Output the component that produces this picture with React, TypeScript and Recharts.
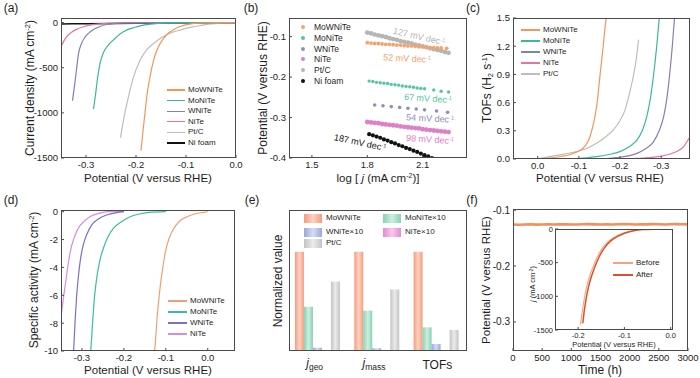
import React from "react"
import { LineChart, Line, XAxis, YAxis, ScatterChart, Scatter, BarChart, Bar } from "recharts"

const FONT = "'Liberation Sans', Arial, Helvetica, sans-serif"
const INK = "#1e1e1e"
const FRAME = "#4a4a4a"

// (a) LSV curves: [potential (V vs RHE), current density (mA cm-2)]
const aMoWNiTe = [[-0.19, -1420], [-0.186, -1200], [-0.182, -1000], [-0.178, -800], [-0.172, -600], [-0.165, -420], [-0.157, -290], [-0.147, -190], [-0.135, -115], [-0.12, -62], [-0.105, -30], [-0.09, -13], [-0.075, -5], [-0.05, -1], [0, 0]]
const aMoNiTe = [[-0.285, -958], [-0.281, -800], [-0.277, -620], [-0.272, -454], [-0.265, -330], [-0.255, -245], [-0.245, -190], [-0.232, -125], [-0.218, -80], [-0.206, -58], [-0.19, -32], [-0.17, -15], [-0.14, -4], [-0.1, -1], [0, 0]]
const aWNiTe = [[-0.327, -865], [-0.323, -700], [-0.319, -520], [-0.315, -343], [-0.309, -230], [-0.302, -160], [-0.295, -119], [-0.285, -75], [-0.272, -42], [-0.259, -20], [-0.24, -8], [-0.226, -2], [-0.2, -1], [0, 0]]
const aNiTe = [[-0.35, -268], [-0.345, -210], [-0.339, -157], [-0.33, -110], [-0.319, -74], [-0.305, -45], [-0.29, -25], [-0.27, -12], [-0.25, -5], [-0.22, -1], [0, 0]]
const aPtC = [[-0.231, -1275], [-0.224, -1050], [-0.215, -820], [-0.205, -604], [-0.193, -430], [-0.18, -310], [-0.165, -230], [-0.15, -170], [-0.13, -112], [-0.112, -82], [-0.09, -50], [-0.07, -30], [-0.05, -14], [-0.03, -5], [0, 0]]
const aNiFoam = [[-0.35, -14], [-0.3, -11], [-0.2, -7], [-0.1, -4], [0, -1]]
const aXTicks = [-0.3, -0.2, -0.1, 0]
const aYTicks = [0, -500, -1000, -1500]

// (b) Tafel plots: [log j, potential]
const bMoWNiTe = [[1.8, -0.115], [1.82, -0.116], [1.84, -0.117], [1.86, -0.117], [1.88, -0.118], [1.9, -0.119], [1.92, -0.119], [1.94, -0.12], [1.96, -0.121], [1.98, -0.121], [2.0, -0.122], [2.02, -0.123], [2.04, -0.123], [2.06, -0.124], [2.08, -0.125], [2.1, -0.125], [2.12, -0.126], [2.14, -0.127], [2.16, -0.127], [2.18, -0.128], [2.2, -0.128], [2.23, -0.129]]
const bMoNiTe = [[1.81, -0.21], [1.83, -0.211], [1.85, -0.213], [1.87, -0.214], [1.89, -0.215], [1.91, -0.216], [1.93, -0.218], [1.95, -0.219], [1.97, -0.22], [1.99, -0.222], [2.01, -0.223], [2.03, -0.224], [2.05, -0.225], [2.07, -0.227], [2.09, -0.228], [2.11, -0.229], [2.16, -0.232], [2.2, -0.235], [2.24, -0.237]]
const bWNiTe = [[1.84, -0.269], [1.885, -0.271], [1.93, -0.273], [1.975, -0.275], [2.02, -0.277], [2.065, -0.279], [2.11, -0.281], [2.175, -0.284], [2.235, -0.287]]
const bNiTe = [[1.8, -0.311], [1.82, -0.312], [1.84, -0.313], [1.86, -0.314], [1.88, -0.316], [1.9, -0.317], [1.92, -0.318], [1.94, -0.319], [1.96, -0.32], [1.98, -0.322], [2.0, -0.323], [2.02, -0.324], [2.04, -0.325], [2.06, -0.326], [2.08, -0.327], [2.1, -0.329], [2.12, -0.33], [2.14, -0.331], [2.16, -0.332], [2.18, -0.333], [2.2, -0.334], [2.22, -0.335], [2.24, -0.336]]
const bPtC = [[1.8, -0.09], [1.82, -0.092], [1.84, -0.095], [1.86, -0.097], [1.88, -0.099], [1.9, -0.101], [1.92, -0.104], [1.94, -0.106], [1.96, -0.108], [1.98, -0.111], [2.0, -0.113], [2.02, -0.115], [2.04, -0.117], [2.06, -0.12], [2.08, -0.122], [2.1, -0.124], [2.12, -0.126], [2.14, -0.129], [2.16, -0.131], [2.18, -0.133], [2.2, -0.135], [2.22, -0.138], [2.24, -0.14]]
const bNiFoam = [[1.81, -0.341], [1.83, -0.344], [1.85, -0.347], [1.87, -0.35], [1.89, -0.354], [1.91, -0.357], [1.93, -0.361], [1.95, -0.364], [1.97, -0.368], [1.99, -0.371], [2.01, -0.375], [2.03, -0.378], [2.05, -0.382], [2.07, -0.385], [2.09, -0.389], [2.11, -0.393], [2.13, -0.396], [2.15, -0.4]]
const bXTicks = [1.5, 1.8, 2.1]
const bYTicks = [-0.1, -0.2, -0.3, -0.4]
const bSlopes = ["127", "52", "67", "54", "98", "187"]

// (c) TOFs: [potential, TOF (H2 s-1)]
const cMoWNiTe = [[-0.168, 1.55], [-0.165, 1.45], [-0.158, 1.15], [-0.151, 0.875], [-0.145, 0.62], [-0.139, 0.45], [-0.133, 0.33], [-0.127, 0.237], [-0.12, 0.17], [-0.11, 0.114], [-0.095, 0.075], [-0.078, 0.045], [-0.06, 0.03], [-0.04, 0.016], [-0.02, 0.008], [0, 0.003]]
const cMoNiTe = [[-0.298, 1.6], [-0.295, 1.48], [-0.288, 1.15], [-0.281, 0.875], [-0.274, 0.65], [-0.265, 0.45], [-0.254, 0.3], [-0.241, 0.2], [-0.222, 0.13], [-0.2, 0.078], [-0.17, 0.045], [-0.143, 0.025], [-0.12, 0.013], [-0.094, 0.005], [-0.07, 0]]
const cWNiTe = [[-0.334, 1.6], [-0.332, 1.48], [-0.327, 1.2], [-0.32, 0.875], [-0.314, 0.65], [-0.306, 0.45], [-0.295, 0.3], [-0.281, 0.18], [-0.262, 0.11], [-0.241, 0.06], [-0.22, 0.033], [-0.192, 0.014], [-0.15, 0]]
const cNiTe = [[-0.375, 0.27], [-0.365, 0.2], [-0.354, 0.13], [-0.34, 0.085], [-0.322, 0.053], [-0.3, 0.03], [-0.273, 0.014], [-0.24, 0.006], [-0.2, 0]]
const cPtC = [[-0.245, 1.27], [-0.24, 1.08], [-0.232, 0.875], [-0.222, 0.68], [-0.212, 0.52], [-0.2, 0.41], [-0.184, 0.31], [-0.165, 0.235], [-0.143, 0.167], [-0.12, 0.115], [-0.094, 0.078], [-0.06, 0.05], [-0.029, 0.025], [0, 0.002]]
const cXTicks = [0, -0.1, -0.2, -0.3]
const cYTicks = [0, 0.3, 0.6, 0.9, 1.2, 1.5]

// (d) specific activity: [potential, mA cm-2]
const dMoWNiTe = [[-0.128, -10.5], [-0.124, -9], [-0.121, -7.67], [-0.117, -6.4], [-0.113, -5.27], [-0.107, -4], [-0.101, -2.88], [-0.092, -1.9], [-0.081, -1.2], [-0.066, -0.65], [-0.049, -0.36], [-0.03, -0.15], [-0.01, -0.05], [0, 0]]
const dMoNiTe = [[-0.28, -10.5], [-0.279, -10], [-0.274, -7.67], [-0.27, -6.1], [-0.265, -4.8], [-0.258, -3.6], [-0.249, -2.63], [-0.238, -1.8], [-0.225, -1.2], [-0.205, -0.7], [-0.185, -0.36], [-0.16, -0.15], [-0.14, -0.05], [-0.1, 0]]
const dWNiTe = [[-0.321, -10.5], [-0.32, -10], [-0.316, -7.67], [-0.313, -6.2], [-0.309, -4.8], [-0.304, -3.5], [-0.297, -2.4], [-0.288, -1.6], [-0.277, -0.96], [-0.26, -0.5], [-0.241, -0.24], [-0.22, -0.08], [-0.2, 0]]
const dNiTe = [[-0.352, -8.5], [-0.35, -7.67], [-0.345, -6.4], [-0.34, -5.27], [-0.334, -4], [-0.328, -2.88], [-0.319, -1.9], [-0.309, -1.2], [-0.295, -0.7], [-0.281, -0.36], [-0.26, -0.12], [-0.236, 0], [-0.2, 0]]
const dXTicks = [-0.3, -0.2, -0.1, 0]
const dYTicks = [0, -2, -4, -6, -8, -10]

// (e) normalized values
const eCats = ["j_geo", "j_mass", "TOFs"]
const eMoWNiTe = [1, 1, 1]
const eMoNiTe10 = [0.446, 0.406, 0.238]
const eWNiTe10 = [0.033, 0.027, 0.07]
const eNiTe10 = [0.008, 0.008, 0.008]
const ePtC = [0.699, 0.62, 0.212]

// (f) stability
const fTime = [0, 100, 200, 300, 400, 500, 600, 700, 800, 900, 1000, 1100, 1200, 1300, 1400, 1500, 1600, 1700, 1800, 1900, 2000, 2100, 2200, 2300, 2400, 2500, 2600, 2700, 2800, 2900, 3000]
const fPotential = [-0.1258, -0.1262, -0.1257, -0.1254, -0.1259, -0.1256, -0.1253, -0.1257, -0.1255, -0.1252, -0.1256, -0.1258, -0.1254, -0.1251, -0.1255, -0.1257, -0.1253, -0.1256, -0.1254, -0.125, -0.1253, -0.1256, -0.1252, -0.1255, -0.1251, -0.1254, -0.1256, -0.1252, -0.1249, -0.1253, -0.1255]
const fXTicks = [0, 500, 1000, 1500, 2000, 2500, 3000]
const fYTicks = [-0.1, -0.2, -0.3]
const fBefore = [[-0.195, -1420], [-0.19, -1180], [-0.186, -1010], [-0.182, -870], [-0.176, -720], [-0.169, -584], [-0.159, -420], [-0.148, -287], [-0.134, -180], [-0.12, -114], [-0.103, -62], [-0.083, -25], [-0.062, -8], [-0.04, -2], [0, 0]]
const fAfter = [[-0.19, -1400], [-0.186, -1180], [-0.182, -1010], [-0.178, -870], [-0.172, -720], [-0.165, -584], [-0.155, -420], [-0.144, -287], [-0.13, -180], [-0.116, -114], [-0.1, -62], [-0.08, -25], [-0.06, -8], [-0.04, -2], [0, 0]]
const fiXTicks = [-0.2, -0.1, 0]
const fiYTicks = [0, -500, -1000, -1500]

const C = {
  mow: "#F29659",
  mo: "#3DB79A",
  w: "#8083B2",
  ni: "#E274A8",
  pt: "#BDBDBD",
  foam: "#111111",
}
const BC = {
  mow: "#F4A26E",
  mo: "#55C6A3",
  w: "#8D90BF",
  ni: "#E07EC8",
  pt: "#B5B5B5",
  foam: "#111111",
}
const DC = { mow: "#F0A070", mo: "#3CBCA0", w: "#7B6FC6", ni: "#D58EE0" }
const EC = [
  ["mow", "#F59C7E", "#FDD3C3"],
  ["mo", "#86D2B4", "#CDEFE0"],
  ["w", "#9AA8D8", "#D6DDF3"],
  ["ni", "#E48CD0", "#F6CBEC"],
  ["pt", "#C4C4C4", "#EBEBEB"],
]

type Rect = [number, number, number, number]
const A: Rect = [61, 18, 236, 158]
const B: Rect = [289, 18, 467, 158]
const Cr: Rect = [513, 18, 690, 159]
const D: Rect = [61, 210, 235, 351]
const E: Rect = [289, 210, 467, 351]
const F: Rect = [513, 209, 688, 351]
const FI: Rect = [555, 229, 673, 330]

const ML = 55
const MT = 8
const MR = 14
const XH = 30
const MARGIN = { top: MT, right: MR, bottom: 0, left: 0 }

const pts = (arr: number[][]) => arr.map(([x, y]) => ({ x, y }))
const fMain = fTime.map((t, i) => ({ x: t, y: fPotential[i] }))
const eTable = eCats.map((cat, i) => ({ cat, mow: eMoWNiTe[i], mo: eMoNiTe10[i], w: eWNiTe10[i], ni: eNiTe10[i], pt: ePtC[i] }))

function place(r: Rect) {
  return { left: r[0] - ML, top: r[1] - MT, width: r[2] - r[0] + ML + MR, height: r[3] - r[1] + MT + XH }
}

const tickFont = (s = 9.5) => ({ fontSize: s, fill: INK, fontFamily: FONT })
const xAx = (s = 9.5, m = 6) => ({ height: XH, tickSize: -3, tickMargin: m, axisLine: false, tickLine: { stroke: FRAME }, tick: tickFont(s), allowDataOverflow: true, interval: 0 as const })
const yAx = (s = 9.5, m = 6) => ({ width: ML, tickSize: -3, tickMargin: m, axisLine: false, tickLine: { stroke: FRAME }, tick: tickFont(s), allowDataOverflow: true, interval: 0 as const })
const f1 = (v: number) => v.toFixed(1)

function Frame({ r }: { r: Rect }) {
  return <div style={{ position: "absolute", left: r[0], top: r[1], width: r[2] - r[0], height: r[3] - r[1], border: `1px solid ${FRAME}`, boxSizing: "border-box", pointerEvents: "none" }} />
}

type TxtProps = { x: number; y: number; size?: number; color?: string; rot?: number; left?: boolean; children: React.ReactNode }
function Txt({ x, y, size = 12, color = INK, rot = 0, left = false, children }: TxtProps) {
  return (
    <div style={{ position: "absolute", left: x, top: y, transform: `translate(${left ? "0" : "-50%"}, -50%) rotate(${rot}deg)`, fontSize: size, color, whiteSpace: "nowrap", lineHeight: 1, fontFamily: FONT }}>
      {children}
    </div>
  )
}

function LegLine({ x, y, w, c, t = 1.4 }: { x: number; y: number; w: number; c: string; t?: number }) {
  return <div style={{ position: "absolute", left: x, top: y - t / 2, width: w, height: t, background: c }} />
}

const Sup = ({ children }: { children: React.ReactNode }) => <sup style={{ fontSize: "0.62em", verticalAlign: "0.55em" }}>{children}</sup>
const Sub = ({ children }: { children: React.ReactNode }) => <sub style={{ fontSize: "0.62em", verticalAlign: "-0.25em" }}>{children}</sub>

function line(data: number[][], color: string, w = 1.2) {
  return <Line data={pts(data)} dataKey="y" type="monotone" stroke={color} strokeWidth={w} dot={false} isAnimationActive={false} />
}

function scat(data: number[][], color: string, r = 2) {
  return <Scatter data={pts(data)} isAnimationActive={false} shape={(p: any) => <circle cx={p.cx} cy={p.cy} r={r} fill={color} />} />
}

function ETick(props: any) {
  const { x, y, payload } = props
  const v: string = payload.value
  if (!v.includes("_")) {
    return <text x={x} y={y + 18} textAnchor="middle" fontSize={12} fill={INK} fontFamily={FONT}>{v}</text>
  }
  return (
    <text x={x - 4} y={y + 16} textAnchor="middle" fill={INK} fontFamily={FONT}>
      <tspan fontSize={12} fontStyle="italic">j</tspan>
      <tspan fontSize={8.5} dy={3}>{v.split("_")[1]}</tspan>
    </text>
  )
}

export default function App() {
  const pa = place(A), pb = place(B), pc = place(Cr), pd = place(D), pe = place(E), pf = place(F), pfi = place(FI)
  const abs = (p: { left: number; top: number }) => ({ position: "absolute" as const, left: p.left, top: p.top })
  const legA: [string, string][] = [["MoWNiTe", C.mow], ["MoNiTe", C.mo], ["WNiTe", C.w], ["NiTe", C.ni], ["Pt/C", C.pt], ["Ni foam", C.foam]]
  const legB: [string, string][] = [["MoWNiTe", BC.mow], ["MoNiTe", BC.mo], ["WNiTe", BC.w], ["NiTe", BC.ni], ["Pt/C", BC.pt], ["Ni foam", BC.foam]]
  const legD: [string, string][] = [["MoWNiTe", DC.mow], ["MoNiTe", DC.mo], ["WNiTe", DC.w], ["NiTe", DC.ni]]
  const slopeColors = [BC.pt, BC.mow, BC.mo, BC.w, BC.ni, BC.foam]
  const slopePos: [number, number, number][] = [[419, 37, 13], [407, 59, 3], [428, 99, 4], [430, 119, 3], [430, 140, 4], [360, 143, 12]]
  const eSwatch = (i: number) => `linear-gradient(to right, ${EC[i][1]}, ${EC[i][2]} 50%, ${EC[i][1]})`
  const legE: [string, number, number, number][] = [["MoWNiTe", 0, 304, 218], ["MoNiTe×10", 1, 383, 218], ["WNiTe×10", 2, 304, 232], ["NiTe×10", 3, 383, 232], ["Pt/C", 4, 304, 243]]

  return (
    <div style={{ position: "absolute", left: 0, top: 0, width: 700, height: 378, background: "#fff", overflow: "hidden", fontFamily: FONT }}>
      {/* (a) */}
      <div style={abs(pa)}>
        <LineChart width={pa.width} height={pa.height} margin={MARGIN}>
          <XAxis {...xAx()} type="number" dataKey="x" domain={[-0.35, 0]} ticks={aXTicks} tickFormatter={f1} />
          <YAxis {...yAx()} type="number" dataKey="y" domain={[-1500, 52]} ticks={aYTicks} />
          {line(aNiFoam, C.foam, 1.6)}
          {line(aPtC, C.pt)}
          {line(aNiTe, C.ni)}
          {line(aWNiTe, C.w)}
          {line(aMoNiTe, C.mo)}
          {line(aMoWNiTe, C.mow)}
        </LineChart>
      </div>
      <Frame r={A} />

      {/* (b) */}
      <div style={abs(pb)}>
        <ScatterChart width={pb.width} height={pb.height} margin={MARGIN}>
          <XAxis {...xAx()} type="number" dataKey="x" domain={[1.376, 2.34]} ticks={bXTicks} tickFormatter={f1} />
          <YAxis {...yAx()} type="number" dataKey="y" domain={[-0.4, -0.054]} ticks={bYTicks} tickFormatter={f1} />
          {scat(bPtC, BC.pt, 2.4)}
          {scat(bMoWNiTe, BC.mow, 1.9)}
          {scat(bMoNiTe, BC.mo, 1.7)}
          {scat(bWNiTe, BC.w, 1.8)}
          {scat(bNiTe, BC.ni, 2.4)}
          {scat(bNiFoam, BC.foam, 2.1)}
        </ScatterChart>
      </div>
      <Frame r={B} />

      {/* (c) */}
      <div style={abs(pc)}>
        <LineChart width={pc.width} height={pc.height} margin={MARGIN}>
          <XAxis {...xAx()} type="number" dataKey="x" domain={[-0.37, 0.06]} reversed ticks={cXTicks} tickFormatter={f1} />
          <YAxis {...yAx()} type="number" dataKey="y" domain={[0, 1.5]} ticks={cYTicks} tickFormatter={f1} />
          {line(cPtC, C.pt)}
          {line(cNiTe, C.ni)}
          {line(cWNiTe, C.w)}
          {line(cMoNiTe, C.mo)}
          {line(cMoWNiTe, C.mow)}
        </LineChart>
      </div>
      <Frame r={Cr} />

      {/* (d) */}
      <div style={abs(pd)}>
        <LineChart width={pd.width} height={pd.height} margin={MARGIN}>
          <XAxis {...xAx()} type="number" dataKey="x" domain={[-0.35, 0.065]} ticks={dXTicks} tickFormatter={f1} />
          <YAxis {...yAx()} type="number" dataKey="y" domain={[-10, 0.12]} ticks={dYTicks} />
          {line(dNiTe, DC.ni)}
          {line(dWNiTe, DC.w)}
          {line(dMoNiTe, DC.mo)}
          {line(dMoWNiTe, DC.mow)}
        </LineChart>
      </div>
      <Frame r={D} />

      {/* (e) */}
      <div style={abs(pe)}>
        <BarChart width={pe.width} height={pe.height} margin={MARGIN} data={eTable} barCategoryGap="10%" barGap={0}>
          <defs>
            {EC.map(([k, edge, light]) => (
              <linearGradient key={k} id={`eg-${k}`} x1="0" y1="0" x2="1" y2="0">
                <stop offset="0%" stopColor={edge} />
                <stop offset="50%" stopColor={light} />
                <stop offset="100%" stopColor={edge} />
              </linearGradient>
            ))}
          </defs>
          <XAxis dataKey="cat" height={XH} tickLine={false} axisLine={false} tickSize={0} tickMargin={0} tick={ETick} interval={0} />
          <YAxis width={ML} type="number" domain={[0, 1.42]} tick={false} tickLine={false} axisLine={false} />
          {EC.map(([k]) => (
            <Bar key={k} dataKey={k} fill={`url(#eg-${k})`} isAnimationActive={false} />
          ))}
        </BarChart>
      </div>
      <Frame r={E} />

      {/* (f) */}
      <div style={abs(pf)}>
        <LineChart width={pf.width} height={pf.height} margin={MARGIN}>
          <XAxis {...xAx()} type="number" dataKey="x" domain={[0, 3000]} ticks={fXTicks} />
          <YAxis {...yAx(10)} type="number" dataKey="y" domain={[-0.352, -0.098]} ticks={fYTicks} tickFormatter={f1} />
          <Line data={fMain} dataKey="y" type="linear" stroke="#F0905C" strokeWidth={2.6} dot={false} isAnimationActive={false} />
        </LineChart>
      </div>
      <Frame r={F} />
      <div style={{ position: "absolute", left: FI[0], top: FI[1], width: FI[2] - FI[0], height: FI[3] - FI[1], background: "#fff" }} />
      <div style={abs(pfi)}>
        <LineChart width={pfi.width} height={pfi.height} margin={MARGIN}>
          <XAxis {...xAx(7.5, 6)} type="number" dataKey="x" domain={[-0.25, 0.005]} ticks={fiXTicks} tickFormatter={f1} />
          <YAxis {...yAx(7.5, 5)} type="number" dataKey="y" domain={[-1500, 0]} ticks={fiYTicks} />
          {line(fBefore, "#F4A47A", 1.1)}
          {line(fAfter, "#D8532B", 1.5)}
        </LineChart>
      </div>
      <Frame r={FI} />

      {/* panel letters */}
      <Txt x={11} y={8} size={12}>(a)</Txt>
      <Txt x={251} y={8} size={12}>(b)</Txt>
      <Txt x={473} y={8} size={12}>(c)</Txt>
      <Txt x={11} y={200} size={12}>(d)</Txt>
      <Txt x={252} y={200} size={12}>(e)</Txt>
      <Txt x={472} y={200} size={12}>(f)</Txt>

      {/* axis titles */}
      <Txt x={30} y={88} rot={-90}>Current density (mA cm<Sup>-2</Sup>)</Txt>
      <Txt x={148} y={179} size={11.5}>Potential (V versus RHE)</Txt>
      <Txt x={263} y={88} rot={-90}>Potential (V versus RHE)</Txt>
      <Txt x={378} y={179} size={11.5}>log [ <i>j</i> (mA cm<Sup>-2</Sup>)]</Txt>
      <Txt x={488} y={88} rot={-90}>TOFs (H<Sub>2</Sub> s<Sup>-1</Sup>)</Txt>
      <Txt x={600} y={179} size={11.5}>Potential (V versus RHE)</Txt>
      <Txt x={34} y={280} rot={-90}>Specific activity (mA cm<Sup>-2</Sup>)</Txt>
      <Txt x={148} y={371} size={11.5}>Potential (V versus RHE)</Txt>
      <Txt x={278} y={281} rot={-90}>Normalized value</Txt>
      <Txt x={487} y={280} rot={-90} size={11.5}>Potential (V versus RHE)</Txt>
      <Txt x={600} y={370} size={12}>Time (h)</Txt>
      <Txt x={614} y={345} size={7.5}>Potential (V versus RHE)</Txt>
      <Txt x={533} y={284} size={7.5} rot={-90}><i>j</i> (mA cm<Sup>-2</Sup>)</Txt>

      {/* legend (a) */}
      {legA.map(([n, c], i) => (
        <React.Fragment key={n}>
          <LegLine x={167} y={90 + i * 10.6} w={18} c={c} t={n === "Ni foam" ? 1.8 : 1.3} />
          <Txt x={188} y={90 + i * 10.6} size={8} left>{n}</Txt>
        </React.Fragment>
      ))}

      {/* legend (b) */}
      {legB.map(([n, c], i) => (
        <React.Fragment key={n}>
          <div style={{ position: "absolute", left: 301, top: 27 + i * 10.8 - 2, width: 4, height: 4, borderRadius: 2, background: c }} />
          <Txt x={314} y={27 + i * 10.8} size={8.5} left>{n}</Txt>
        </React.Fragment>
      ))}
      {bSlopes.map((s, i) => (
        <Txt key={s} x={slopePos[i][0]} y={slopePos[i][1]} rot={slopePos[i][2]} size={9} color={slopeColors[i]}>
          {s} mV dec<Sup>-1</Sup>
        </Txt>
      ))}

      {/* legend (c) */}
      {legA.slice(0, 5).map(([n, c], i) => (
        <React.Fragment key={n}>
          <LegLine x={521} y={30 + i * 11} w={19} c={c} t={1.3} />
          <Txt x={543} y={30 + i * 11} size={8} left>{n}</Txt>
        </React.Fragment>
      ))}

      {/* legend (d) */}
      {legD.map(([n, c], i) => (
        <React.Fragment key={n}>
          <LegLine x={168} y={301 + i * 11} w={19} c={c} t={1.3} />
          <Txt x={190} y={301 + i * 11} size={8} left>{n}</Txt>
        </React.Fragment>
      ))}

      {/* legend (e) */}
      {legE.map(([n, k, x, y]) => (
        <React.Fragment key={n}>
          <div style={{ position: "absolute", left: x, top: y - 4.5, width: 18, height: 9, background: eSwatch(k) }} />
          <Txt x={x + 22} y={y} size={8} left>{n}</Txt>
        </React.Fragment>
      ))}

      {/* legend (f) inset */}
      <LegLine x={613} y={263} w={20} c="#F4A47A" t={1.2} />
      <Txt x={636} y={263} size={8} left>Before</Txt>
      <LegLine x={613} y={275} w={20} c="#D8532B" t={1.6} />
      <Txt x={636} y={275} size={8} left>After</Txt>
    </div>
  )
}
